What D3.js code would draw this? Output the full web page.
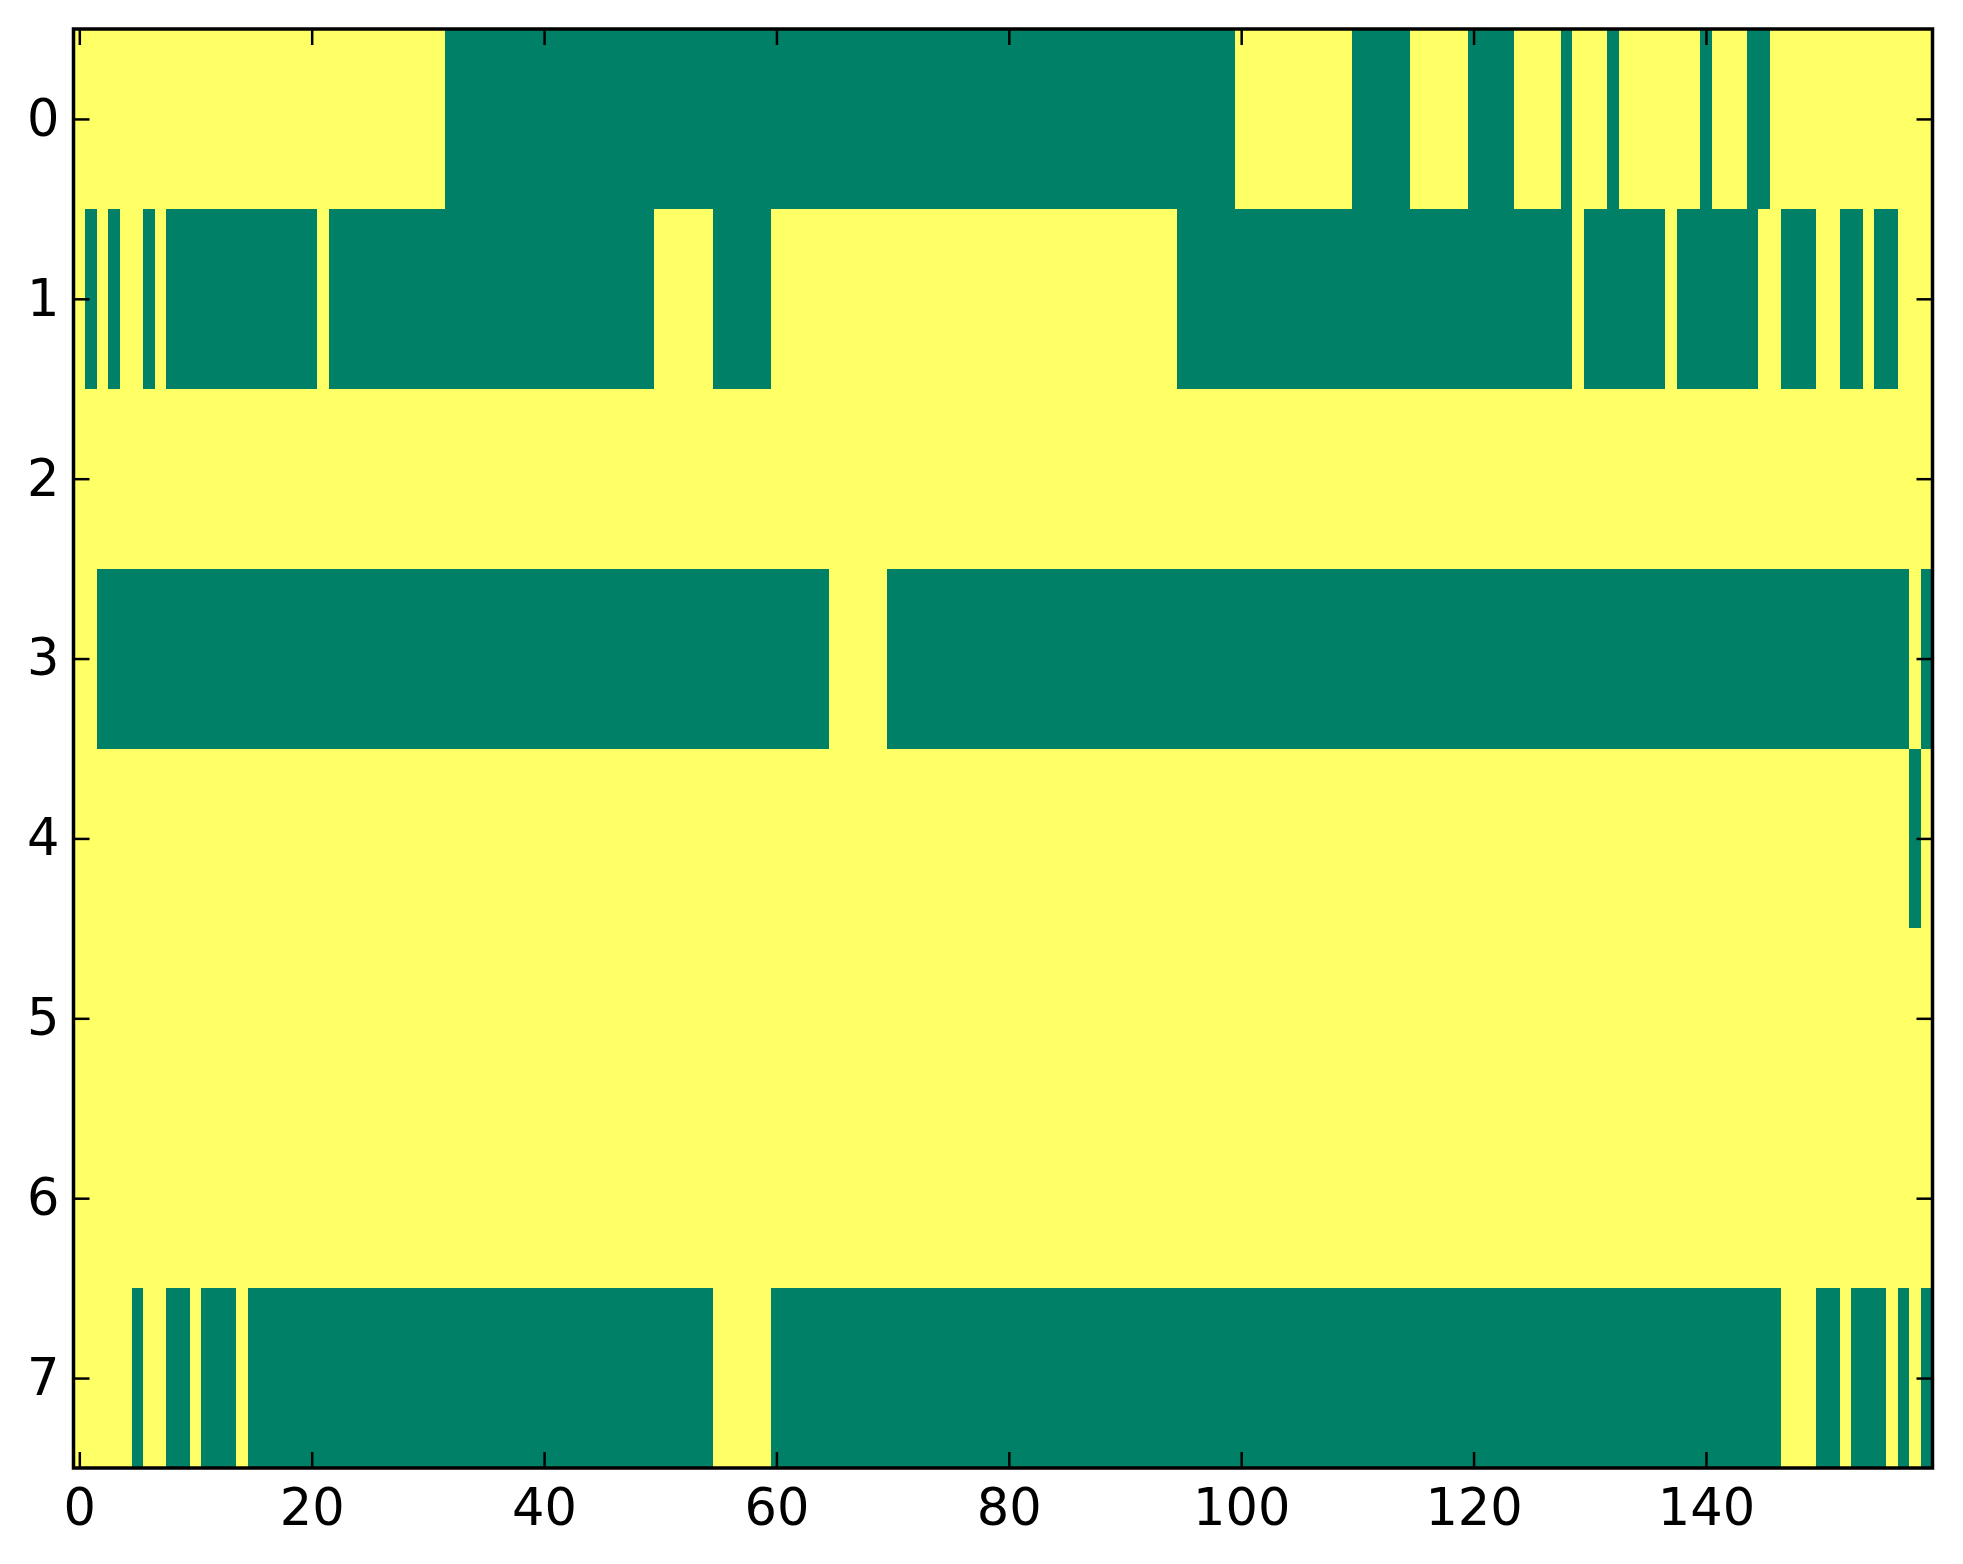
<!DOCTYPE html>
<html lang="en">
<head>
    <meta charset="utf-8">
    <title>Binary matrix</title>
    <script src="https://d3js.org/d3.v7.min.js"></script>
    <style>
        body { margin: 0; background: #ffffff; }
        #chart__container { width: 1963px; height: 1564px; }
    </style>
</head>
<body>
<div id="chart__container"></div>
<script>

/* ------------------------------------------------------------
 *  Data: 8 rows x 160 columns, value 0 (green) or 1 (yellow).
 *  Each row lists its green runs as [first column, last column].
 * ------------------------------------------------------------ */
var nCols = 160;
var rowLabels = [0, 1, 2, 3, 4, 5, 6, 7];
var xTicks = [0, 20, 40, 60, 80, 100, 120, 140];

var row0Green = [[32,99],[110,114],[120,123],[128,128],[132,132],[140,140],[144,145]];
var row1Green = [[1,1],[3,3],[6,6],[8,20],[22,49],[55,59],[95,128],[130,136],[138,144],[147,149],[152,153],[155,156]];
var row2Green = [];
var row3Green = [[2,64],[70,157],[159,159]];
var row4Green = [[158,158]];
var row5Green = [];
var row6Green = [];
var row7Green = [[5,5],[8,9],[11,13],[15,54],[60,146],[150,151],[153,155],[157,157],[159,159]];

var greenRows = [row0Green, row1Green, row2Green, row3Green, row4Green, row5Green, row6Green, row7Green];

// colormap "summer": 0 -> green, 1 -> yellow
var color = d3.scaleLinear().domain([0, 1]).range(["#008066", "#ffff66"]);

// Build cell list
var cells = [];
greenRows.forEach(function(runs, r){
    for (var c = 0; c < nCols; c++) {
        var v = 1;
        runs.forEach(function(run){ if (c >= run[0] && c <= run[1]) v = 0; });
        cells.push({row: r, col: c, value: v});
    }
});

/* ------------------------------------------------------------
 *  Drawing
 * ------------------------------------------------------------ */
var width = 1963, height = 1564;
var margin = {left: 73.5, right: 1963 - 1932.5, top: 29, bottom: 1564 - 1468};

var svg = d3.select("#chart__container")
    .append("svg")
    .attr("width", width)
    .attr("height", height)
    .style("display", "block");

var x = d3.scaleLinear().domain([-0.5, nCols - 0.5]).range([margin.left, width - margin.right]);
var y = d3.scaleLinear().domain([-0.5, rowLabels.length - 0.5]).range([margin.top, height - margin.bottom]);

// image cells
svg.append("g")
    .selectAll("rect")
    .data(cells)
    .enter()
    .append("rect")
    .attr("x", d => x(d.col - 0.5))
    .attr("y", d => y(d.row - 0.5))
    .attr("width", d => x(d.col + 0.5) - x(d.col - 0.5))
    .attr("height", d => y(d.row + 0.5) - y(d.row - 0.5))
    .attr("fill", d => color(d.value))
    .attr("shape-rendering", "crispEdges");

var fontSize = "51px";
var tickLen = 16;

function styleAxis(g){
    g.select(".domain").remove();
    g.selectAll(".tick line").attr("stroke", "black").attr("stroke-width", 2.5);
    g.selectAll(".tick text")
        .attr("fill", "black")
        .style("font-family", "'DejaVu Sans', sans-serif")
        .style("font-size", fontSize);
}

// bottom axis (labels)
svg.append("g")
    .attr("transform", "translate(0," + (height - margin.bottom) + ")")
    .call(d3.axisBottom(x).tickValues(xTicks).tickSizeInner(-tickLen).tickSizeOuter(0).tickPadding(21).tickFormat(d3.format("d")))
    .call(styleAxis);

// top axis (ticks only)
svg.append("g")
    .attr("transform", "translate(0," + margin.top + ")")
    .call(d3.axisTop(x).tickValues(xTicks).tickSizeInner(-tickLen).tickSizeOuter(0).tickFormat(""))
    .call(styleAxis);

// left axis (labels)
svg.append("g")
    .attr("transform", "translate(" + margin.left + ",0)")
    .call(d3.axisLeft(y).tickValues(rowLabels).tickSizeInner(-tickLen).tickSizeOuter(0).tickPadding(14).tickFormat(d3.format("d")))
    .call(styleAxis);

// right axis (ticks only)
svg.append("g")
    .attr("transform", "translate(" + (width - margin.right) + ",0)")
    .call(d3.axisRight(y).tickValues(rowLabels).tickSizeInner(-tickLen).tickSizeOuter(0).tickFormat(""))
    .call(styleAxis);

// frame
svg.append("rect")
    .attr("x", margin.left)
    .attr("y", margin.top)
    .attr("width", width - margin.right - margin.left)
    .attr("height", height - margin.bottom - margin.top)
    .attr("fill", "none")
    .attr("stroke", "black")
    .attr("stroke-width", 3.5);

</script>
</body>
</html>
